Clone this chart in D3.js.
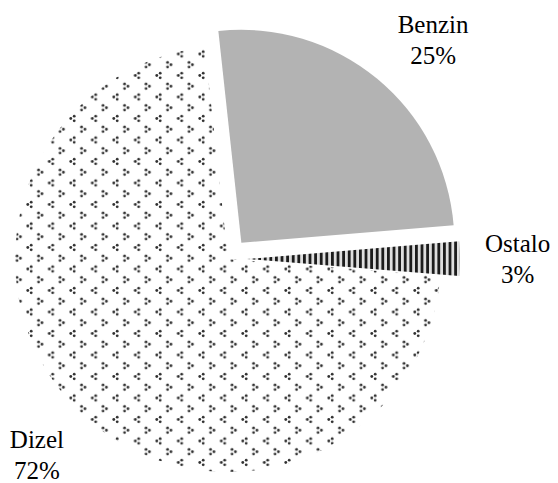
<!DOCTYPE html>
<html>
<head>
<meta charset="utf-8">
<script src="https://cdn.jsdelivr.net/npm/d3@7"></script>
<style>
  body { margin: 0; background: #fff; }
  text { font-family: "Liberation Serif", "Times New Roman", serif; }
</style>
</head>
<body>
<div id="chart"></div>
<script>
// slice data (order as drawn, clockwise)
var categories = ["Benzin", "Ostalo", "Dizel"];
var shares = [25.4, 2.6, 72.0];

var width = 558,
    height = 483,
    cx = 228, cy = 259,
    radius = 213,
    firstAngle = -6.2 * Math.PI / 180;

// how far each slice is pulled out of the pie
var explode = { Benzin: 21, Ostalo: 19, Dizel: 0 };
var fills = { Benzin: "#b3b3b3", Ostalo: "url(#stripes)", Dizel: "url(#dots)" };

var data = categories.map(function(c, i) { return { label: c, value: shares[i] }; });

var svg = d3.select("#chart").append("svg")
  .attr("width", width)
  .attr("height", height);

var defs = svg.append("defs");

// dotted pattern for Dizel
var dots = defs.append("pattern")
  .attr("id", "dots")
  .attr("patternUnits", "userSpaceOnUse")
  .attr("width", 21.5).attr("height", 21.5)
  .attr("patternTransform", "translate(11.125,4.625)");
function cluster(x, y, dir) {
  [[1.7, -2.3], [-1.7, 0], [1.7, 2.3]].forEach(function(p) {
    dots.append("circle")
      .attr("cx", x + dir * p[0]).attr("cy", y + p[1])
      .attr("r", 1.4).attr("fill", "#2e2e2e");
  });
}
cluster(5.375, 5.375, 1);
cluster(16.125, 16.125, -1);

// vertical stripes for Ostalo
var stripes = defs.append("pattern")
  .attr("id", "stripes")
  .attr("patternUnits", "userSpaceOnUse")
  .attr("width", 5.6).attr("height", 10);
stripes.append("rect").attr("width", 5.6).attr("height", 10).attr("fill", "#dedede");
stripes.append("rect").attr("width", 2.8).attr("height", 10).attr("fill", "#1c1c1c");

var pie = d3.pie()
  .sort(null)
  .value(function(d) { return d.value; })
  .startAngle(firstAngle)
  .endAngle(firstAngle + 2 * Math.PI)(data);

var arc = d3.arc()
  .outerRadius(radius)
  .innerRadius(0);

var g = svg.append("g")
  .attr("transform", "translate(" + cx + "," + cy + ")");

function mid(d) { return (d.startAngle + d.endAngle) / 2; }

var slice = g.selectAll(".arc")
  .data(pie)
  .enter().append("g")
  .attr("class", "arc")
  .attr("transform", function(d) {
    var a = mid(d), e = explode[d.data.label];
    return "translate(" + (e * Math.sin(a)) + "," + (-e * Math.cos(a)) + ")";
  });

slice.append("path")
  .attr("d", arc)
  .style("fill", function(d) { return fills[d.data.label]; });

// labels: outside end, pushed back inside the chart area when needed
var gap = 25, boxH = 48, topLimit = 16, bottomLimit = height - 1;
var labels = svg.append("g");
pie.forEach(function(d) {
  var t = labels.append("text")
    .attr("text-anchor", "middle")
    .style("font-size", "25px")
    .style("fill", "#000");
  var l1 = t.append("tspan").text(d.data.label);
  var l2 = t.append("tspan").text(Math.round(d.value) + "%");
  var w = Math.max(l1.node().getComputedTextLength(), l2.node().getComputedTextLength());
  var a = mid(d);
  var s = Math.sin(a), c = Math.cos(a);
  var dist = radius + explode[d.data.label] + gap + (w / 2) * Math.abs(s) + (boxH / 2) * Math.abs(c);
  var x = cx + dist * s, y = cy - dist * c;
  var yc = Math.max(topLimit + boxH / 2, Math.min(bottomLimit - boxH / 2, y));
  if (yc !== y) {
    var dy = yc - cy;
    x = cx + Math.sign(s) * Math.sqrt(Math.max(0, dist * dist - dy * dy));
    y = yc;
  }
  l1.attr("x", x).attr("y", y - 7);
  l2.attr("x", x).attr("y", y + 24);
});
</script>
</body>
</html>
